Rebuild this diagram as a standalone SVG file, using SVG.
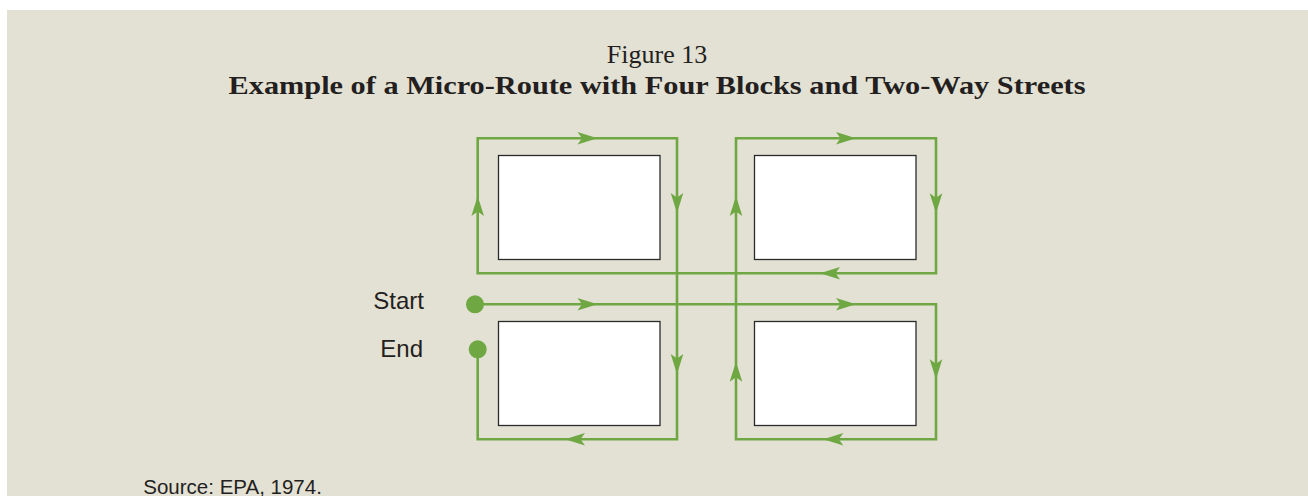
<svg xmlns="http://www.w3.org/2000/svg" width="1308" height="496" viewBox="0 0 1308 496">
  <style>
    .panel { fill: #e3e0d4; }
    .block { fill: #ffffff; stroke: #2b2b2b; stroke-width: 1.3; }
    .route { fill: none; stroke: #6fa843; stroke-width: 2.6; stroke-linejoin: miter; }
    .arrow { fill: #6fa843; }
    .dot { fill: #6fa843; }
    .title { font-family: "Liberation Serif", "Times New Roman", serif; fill: #231f20; }
    .label { font-family: "Liberation Sans", Arial, sans-serif; fill: #231f20; }
  </style>
  <defs>
    <!-- notched arrowhead, tip at the origin, pointing along +x -->
    <path id="head" class="arrow" d="M0,0 L-20,-6.3 L-15.5,0 L-20,6.3 Z"/>
  </defs>

  <rect x="0" y="0" width="1308" height="496" fill="#ffffff"/>
  <rect class="panel" x="7" y="10" width="1301" height="486"/>

  <text class="title" x="657" y="63.3" font-size="26" text-anchor="middle">Figure 13</text>
  <text class="title" x="228.5" y="94.3" font-size="24.5" font-weight="bold" textLength="857" lengthAdjust="spacingAndGlyphs">Example of a Micro-Route with Four Blocks and Two-Way Streets</text>

  <!-- city blocks -->
  <g id="block-nw"><rect class="block" x="498.5" y="155.5" width="161.5" height="104"/></g>
  <g id="block-ne"><rect class="block" x="754.5" y="155.5" width="161.5" height="104"/></g>
  <g id="block-sw"><rect class="block" x="498.5" y="321.5" width="161.5" height="104"/></g>
  <g id="block-se"><rect class="block" x="754.5" y="321.5" width="161.5" height="104"/></g>

  <!-- route driven around the blocks -->
  <g id="connectors">
    <path class="route" d="M475,304.3 H936 V439.3 H736 V138.3 H936 V273.3 H477.7 V138.3 H677 V439.3 H477.7 V349.3"/>
    <use href="#head" transform="translate(597.5,138.3)"/>
    <use href="#head" transform="translate(677,213) rotate(90)"/>
    <use href="#head" transform="translate(477.7,196) rotate(-90)"/>
    <use href="#head" transform="translate(820,273.3) rotate(180)"/>
    <use href="#head" transform="translate(856,138.3)"/>
    <use href="#head" transform="translate(936,213.3) rotate(90)"/>
    <use href="#head" transform="translate(736,196) rotate(-90)"/>
    <use href="#head" transform="translate(597.5,304.3)"/>
    <use href="#head" transform="translate(856,304.3)"/>
    <use href="#head" transform="translate(936,379.3) rotate(90)"/>
    <use href="#head" transform="translate(823.3,439.3) rotate(180)"/>
    <use href="#head" transform="translate(736,361.7) rotate(-90)"/>
    <use href="#head" transform="translate(677,374) rotate(90)"/>
    <use href="#head" transform="translate(565,439.3) rotate(180)"/>
  </g>

  <g id="start">
    <circle class="dot" cx="475" cy="304.3" r="9"/>
    <text class="label" x="424" y="309.3" font-size="24" text-anchor="end">Start</text>
  </g>
  <g id="end">
    <circle class="dot" cx="477.7" cy="349.3" r="9"/>
    <text class="label" x="423" y="356.7" font-size="24" text-anchor="end">End</text>
  </g>

  <text class="label" x="143.3" y="493.6" font-size="20.5">Source: EPA, 1974.</text>
</svg>
